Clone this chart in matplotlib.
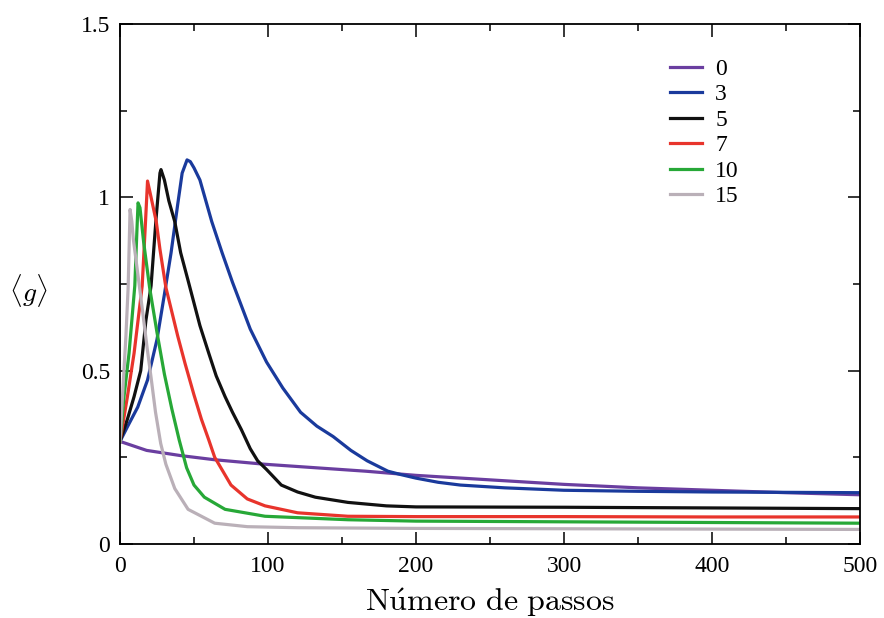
import numpy as np
import matplotlib
matplotlib.use("Agg")
import matplotlib.pyplot as plt
from matplotlib.ticker import MultipleLocator

# values
labels = ["0", "3", "5", "7", "10", "15"]
colors = ["#6a3ea0", "#1a3a9c", "#111111", "#e8342c", "#27a837", "#bab0b8"]

x0 = [0, 18, 41, 64, 98, 132, 166, 200, 250, 300, 350, 400, 450, 500]
y0 = [0.296, 0.27, 0.255, 0.243, 0.23, 0.22, 0.21, 0.198, 0.185, 0.172, 0.162,
      0.155, 0.148, 0.142]

x3 = [0, 5, 12, 18.6, 25, 30, 34.5, 39, 42, 45.3, 47.5, 50, 54, 62, 69, 76, 88,
      99, 110, 122, 133, 144, 156, 167, 181, 190, 200, 215, 230, 260, 300, 350,
      400, 450, 500]
y3 = [0.296, 0.338, 0.395, 0.473, 0.59, 0.72, 0.84, 0.98, 1.07, 1.108, 1.103,
      1.085, 1.05, 0.93, 0.84, 0.755, 0.62, 0.525, 0.45, 0.38, 0.34, 0.31, 0.27,
      0.24, 0.21, 0.2, 0.19, 0.178, 0.17, 0.162, 0.155, 0.152, 0.15, 0.149, 0.148]

x5 = [0, 5, 9.5, 14, 17.5, 21, 24.3, 27, 27.7, 30, 33, 37, 41, 46, 54, 60, 65,
      71, 76, 82, 88, 93, 99, 109, 120, 132, 154, 180, 200, 300, 400, 500]
y5 = [0.296, 0.36, 0.425, 0.5, 0.645, 0.745, 0.935, 1.07, 1.08, 1.05, 0.99, 0.93,
      0.84, 0.76, 0.63, 0.55, 0.485, 0.425, 0.38, 0.33, 0.275, 0.24, 0.215, 0.17,
      0.15, 0.135, 0.12, 0.11, 0.107, 0.106, 0.104, 0.102]

x7 = [0, 5, 9.5, 15, 17.3, 18.6, 21, 24.5, 27, 31, 35, 39, 44, 50, 55, 60, 64,
      75, 86, 98, 120, 154, 200, 300, 400, 500]
y7 = [0.296, 0.425, 0.55, 0.745, 0.935, 1.047, 1.0, 0.93, 0.85, 0.74, 0.67, 0.6,
      0.52, 0.43, 0.36, 0.3, 0.25, 0.17, 0.13, 0.11, 0.09, 0.08, 0.079, 0.079,
      0.078, 0.078]

x10 = [0, 2.7, 6.1, 10, 11.3, 12.2, 13.5, 16, 20, 25, 30, 35, 40, 45, 50, 57,
       71, 98, 154, 200, 300, 400, 500]
y10 = [0.296, 0.425, 0.55, 0.745, 0.89, 0.984, 0.97, 0.87, 0.74, 0.61, 0.49,
       0.39, 0.3, 0.22, 0.17, 0.135, 0.1, 0.08, 0.07, 0.066, 0.064, 0.062, 0.06]

x15 = [0, 2, 4, 5.5, 6.8, 8, 9, 12, 15, 18.5, 21, 24, 27.5, 31, 37, 46, 64, 86,
       120, 200, 300, 400, 500]
y15 = [0.296, 0.45, 0.6, 0.74, 0.965, 0.93, 0.88, 0.78, 0.68, 0.56, 0.48, 0.38,
       0.29, 0.23, 0.16, 0.1, 0.06, 0.05, 0.047, 0.045, 0.044, 0.043, 0.042]

xs = [x0, x3, x5, x7, x10, x15]
ys = [y0, y3, y5, y7, y10, y15]

plt.rcParams['font.family'] = ['Liberation Serif', 'DejaVu Serif']
plt.rcParams['mathtext.fontset'] = 'cm'

fig = plt.figure(figsize=(8.84, 6.18), dpi=100)
ax = fig.add_axes([120/884, 1 - 544/618, 740/884, 520/618])

for x, y, c, lab in zip(xs, ys, colors, labels):
    ax.plot(x, y, color=c, lw=2.3, label=lab, solid_joinstyle='round')

ax.set_xlim(0, 500)
ax.set_ylim(0, 1.5)
ax.set_xticks([0, 100, 200, 300, 400, 500])
ax.set_xticklabels(["0", "100", "200", "300", "400", "500"])
ax.xaxis.set_minor_locator(MultipleLocator(50))
ax.set_yticks([0, 0.5, 1, 1.5])
ax.set_yticklabels(["0", "0.5", "1", "1.5"])
ax.yaxis.set_minor_locator(MultipleLocator(0.25))
ax.tick_params(which='both', direction='in', top=True, right=True,
               labelsize=17, width=1.1)
ax.tick_params(which='major', length=9)
ax.tick_params(which='minor', length=5)
ax.tick_params(axis='x', pad=9)
ax.tick_params(axis='y', pad=7)
for s in ax.spines.values():
    s.set_linewidth(1.3)

ax.set_xlabel(r'$\mathrm{N\acute{u}mero\ de\ passos}$', fontsize=23, va='baseline')
ax.xaxis.set_label_coords(0.5, -0.128)
ax.set_ylabel(r'$\langle g\rangle$', fontsize=20, rotation=0, va='center')
ax.yaxis.set_label_coords(-0.124, 0.487)

ax.legend(loc='upper right', bbox_to_anchor=(0.865, 0.975), frameon=False,
          fontsize=17, handlelength=1.35, handletextpad=0.55, labelspacing=0.17)

fig.savefig("out.png", dpi=100)
